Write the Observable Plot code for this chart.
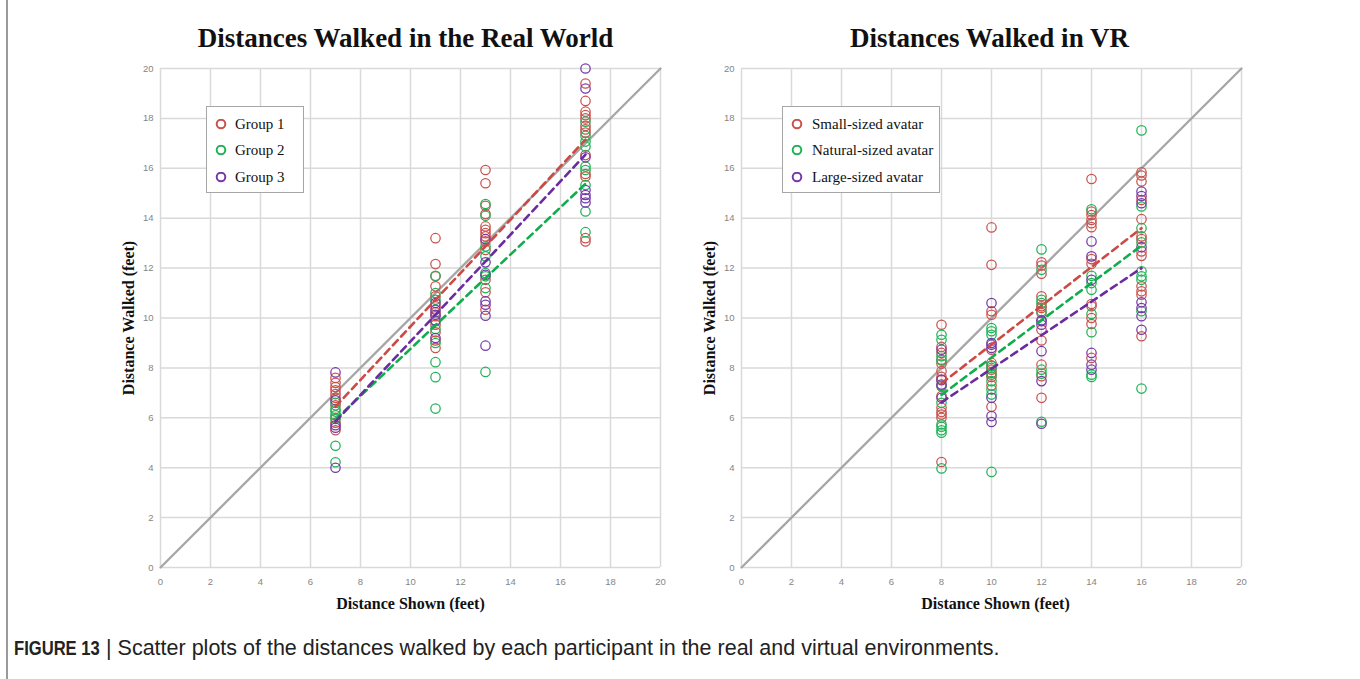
<!DOCTYPE html>
<html>
<head>
<meta charset="utf-8">
<script src="https://cdn.jsdelivr.net/npm/d3@7"></script>
<script src="https://cdn.jsdelivr.net/npm/@observablehq/plot@0.6"></script>
<style>
  html, body { margin: 0; padding: 0; background: #fff; }
  #page { position: relative; width: 1360px; height: 679px; overflow: hidden; background: #fff; }
  .panel { position: absolute; top: 0; }
  .legend { position: absolute; background: #fff; border: 1px solid #a6a6a6; box-sizing: border-box;
            font-family: "Liberation Serif", "Times New Roman", serif; font-size: 15px; color: #111; }
  .legend .row { position: absolute; left: 0; height: 20px; line-height: 20px; white-space: nowrap; }
  .legend svg { position: absolute; top: 5px; }
  .legend span { position: absolute; }
  .cap { position: absolute; top: 635px; font-family: "Liberation Sans", Arial, sans-serif;
         color: #222; white-space: nowrap; line-height: 26px; }
  #capBold { left: 14px; font-size: 21px; font-weight: bold; transform: scaleX(0.79); transform-origin: left center; }
  #capText { left: 106px; font-size: 21.5px; }
  #frameLine { position: absolute; left: 6px; top: 0; width: 2px; height: 679px; background: #9a9a9a; }
</style>
</head>
<body>
<div id="page">
  <div id="frameLine"></div>
  <div id="left" class="panel" style="left:0px"></div>
  <div id="right" class="panel" style="left:581px"></div>
  <div id="capBold" class="cap">FIGURE 13</div>
  <div id="capText" class="cap">| Scatter plots of the distances walked by each participant in the real and virtual environments.</div>
</div>
<script>
// ---------- data ----------
const tickValues = [0, 2, 4, 6, 8, 10, 12, 14, 16, 18, 20];
const identityLine = [0, 20];

// Real world: distances shown
const rwShown = [7, 11, 13, 17];
const rwNames = ["Group 1", "Group 2", "Group 3"];
const rwGroup1 = [
  [7.6, 7.4, 7.23, 7.1, 6.95, 6.8, 6.5, 6.0, 5.8, 5.5],
  [13.2, 12.16, 11.67, 11.27, 10.87, 10.47, 10.23, 10.07, 9.73, 9.43, 9.1, 8.8],
  [15.93, 15.4, 14.5, 14.17, 13.67, 13.53, 13.4, 13.27, 13.07, 12.73, 11.53, 11.03, 10.33],
  [19.4, 18.7, 18.27, 18.13, 18.0, 17.7, 17.56, 17.43, 16.53, 15.77, 15.67, 13.2, 13.07]
];
const rwGroup2 = [
  [6.6, 6.35, 6.25, 6.1, 5.95, 4.88, 4.22],
  [11.69, 11.0, 10.73, 9.87, 9.56, 9.0, 8.23, 7.63, 6.37],
  [14.57, 14.1, 12.87, 12.47, 11.8, 11.67, 11.2, 7.84],
  [17.87, 17.3, 17.07, 16.87, 16.07, 15.93, 15.33, 14.27, 13.44]
];
const rwGroup3 = [
  [7.82, 6.7, 5.7, 5.6, 4.0],
  [10.6, 10.33, 10.13, 9.9, 9.2],
  [13.16, 12.23, 11.73, 10.67, 10.53, 10.09, 8.89],
  [20.0, 19.2, 16.44, 15.13, 14.93, 14.8, 14.63]
];
const rwTrendX = [7, 17];
const rwTrend1 = [6.45, 17.15];
const rwTrend2 = [5.93, 15.38];
const rwTrend3 = [5.85, 16.55];

// VR: distances shown
const vrShown = [8, 10, 12, 14, 16];
const vrNames = ["Small-sized avatar", "Natural-sized avatar", "Large-sized avatar"];
const vrSmall = [
  [9.73, 8.84, 8.6, 8.33, 8.17, 7.87, 7.64, 7.51, 7.27, 6.87, 6.4, 6.23, 6.13, 6.0, 4.23],
  [13.63, 12.13, 10.27, 10.13, 8.73, 8.2, 8.1, 7.93, 7.8, 7.64, 7.29, 6.44],
  [12.23, 12.1, 11.77, 10.87, 10.47, 10.4, 10.2, 9.53, 9.1, 8.13, 7.67, 6.8],
  [15.57, 14.27, 14.13, 13.93, 13.8, 13.64, 12.36, 12.17, 10.56, 10.47, 10.0, 9.76, 8.4],
  [15.84, 15.71, 15.47, 14.73, 13.96, 13.27, 13.16, 12.67, 12.49, 11.27, 11.07, 10.93, 9.27]
];
const vrNatural = [
  [9.33, 9.13, 8.47, 8.3, 7.27, 6.6, 5.73, 5.64, 5.5, 5.4, 3.97],
  [9.6, 9.47, 9.33, 8.07, 8.0, 7.73, 7.47, 7.13, 6.93, 3.83],
  [12.75, 11.93, 10.73, 10.6, 10.27, 7.93, 7.77, 5.84],
  [14.36, 11.69, 11.4, 11.13, 10.16, 9.43, 7.73, 7.64],
  [17.52, 14.47, 13.6, 13.03, 11.87, 11.67, 11.53, 10.27, 7.17]
];
const vrLarge = [
  [8.73, 7.53, 7.33, 6.8],
  [10.6, 9.0, 8.93, 8.8, 6.8, 6.07, 5.83],
  [9.91, 9.87, 9.73, 8.67, 7.47, 5.76],
  [13.07, 12.47, 11.53, 8.6, 8.13, 7.93],
  [15.07, 14.89, 14.6, 12.84, 10.63, 10.4, 10.07, 9.53]
];
const vrTrendX = [8, 16];
const vrTrendSmall = [7.38, 13.6];
const vrTrendNatural = [6.92, 12.9];
const vrTrendLarge = [6.62, 12.0];

const seriesColors = ["#c9524d", "#1fb356", "#7439a8"];
const lineColors = ["#cc4a45", "#10ad4c", "#6a2ca0"];

// ---------- helpers ----------
function flatten(shown, values) {
  const rows = [];
  shown.forEach((x, i) => values[i].forEach(y => rows.push({x, y})));
  return rows;
}
function trendRows(xs, ys) { return xs.map((x, i) => ({x, y: ys[i]})); }

const serif = "Liberation Serif, Times New Roman, serif";

function panel({title, shown, groups, trendX, trends, titleDx, xLabelDx}) {
  const marks = [
    Plot.gridX(tickValues, {stroke: "#d9d9d9", strokeOpacity: 1, strokeWidth: 1.5}),
    Plot.gridY(tickValues, {stroke: "#d9d9d9", strokeOpacity: 1, strokeWidth: 1.5}),
    Plot.axisX(tickValues, {tickSize: 0, tickPadding: 11, label: null, tickFormat: d => String(d)}),
    Plot.axisY(tickValues, {tickSize: 0, tickPadding: 7, label: null, tickFormat: d => String(d)}),
    Plot.line(identityLine, {x: d => d, y: d => d, stroke: "#a6a6a6", strokeWidth: 2.3})
  ];
  groups.forEach((g, i) => {
    marks.push(Plot.dot(flatten(shown, g), {x: "x", y: "y", r: 4.7, stroke: seriesColors[i], strokeWidth: 1.25, fill: "none"}));
  });
  trends.forEach((t, i) => {
    marks.push(Plot.line(trendRows(trendX, t), {x: "x", y: "y", stroke: lineColors[i], strokeWidth: 2.6, strokeDasharray: "7,5"}));
  });
  marks.push(
    Plot.text([title], {frameAnchor: "top", lineAnchor: "middle", textAnchor: "middle", dy: -30, dx: titleDx, fontSize: 27, fontWeight: "bold", fontFamily: serif, fill: "#111"}),
    Plot.text(["Distance Shown (feet)"], {frameAnchor: "bottom", lineAnchor: "middle", textAnchor: "middle", dy: 36, dx: xLabelDx, fontSize: 16, fontWeight: "bold", fontFamily: serif, fill: "#111"}),
    Plot.text(["Distance Walked (feet)"], {frameAnchor: "left", lineAnchor: "middle", textAnchor: "middle", dx: -32, rotate: -90, fontSize: 16, fontWeight: "bold", fontFamily: serif, fill: "#111"})
  );
  return Plot.plot({
    width: 680, height: 640,
    marginLeft: 160, marginRight: 20, marginTop: 68, marginBottom: 73,
    x: {domain: [0, 20]},
    y: {domain: [0, 20]},
    style: {fontFamily: "Liberation Sans, Arial, sans-serif", fontSize: "9.5px", color: "#858585", background: "transparent", overflow: "visible"},
    marks
  });
}

function legend(container, names, box) {
  const div = document.createElement("div");
  div.className = "legend";
  Object.assign(div.style, {left: box.left + "px", top: box.top + "px", width: box.width + "px", height: box.height + "px"});
  names.forEach((name, i) => {
    const row = document.createElement("div");
    row.className = "row";
    row.style.top = (box.rowTop + i * 26.7 - 10) + "px";
    row.style.width = "100%";
    row.innerHTML = `<svg width="14" height="12" style="left:${box.circleX - 7}px"><circle cx="7" cy="5" r="4.3" fill="none" stroke="${seriesColors[i]}" stroke-width="2"/></svg><span style="left:${box.textX}px">${name}</span>`;
    div.appendChild(row);
  });
  container.appendChild(div);
}

document.getElementById("left").appendChild(panel({
  title: "Distances Walked in the Real World",
  shown: rwShown, groups: [rwGroup1, rwGroup2, rwGroup3],
  trendX: rwTrendX, trends: [rwTrend1, rwTrend2, rwTrend3], titleDx: -5, xLabelDx: 0
}));
document.getElementById("right").appendChild(panel({
  title: "Distances Walked in VR",
  shown: vrShown, groups: [vrSmall, vrNatural, vrLarge],
  trendX: vrTrendX, trends: [vrTrendSmall, vrTrendNatural, vrTrendLarge], titleDx: -2, xLabelDx: 4
}));

const page = document.getElementById("page");
legend(page, rwNames, {left: 206, top: 106, width: 98, height: 87, rowTop: 16.5, circleX: 14, textX: 28});
legend(page, vrNames, {left: 782, top: 106, width: 158, height: 87, rowTop: 16.5, circleX: 14, textX: 29});
</script>
</body>
</html>
